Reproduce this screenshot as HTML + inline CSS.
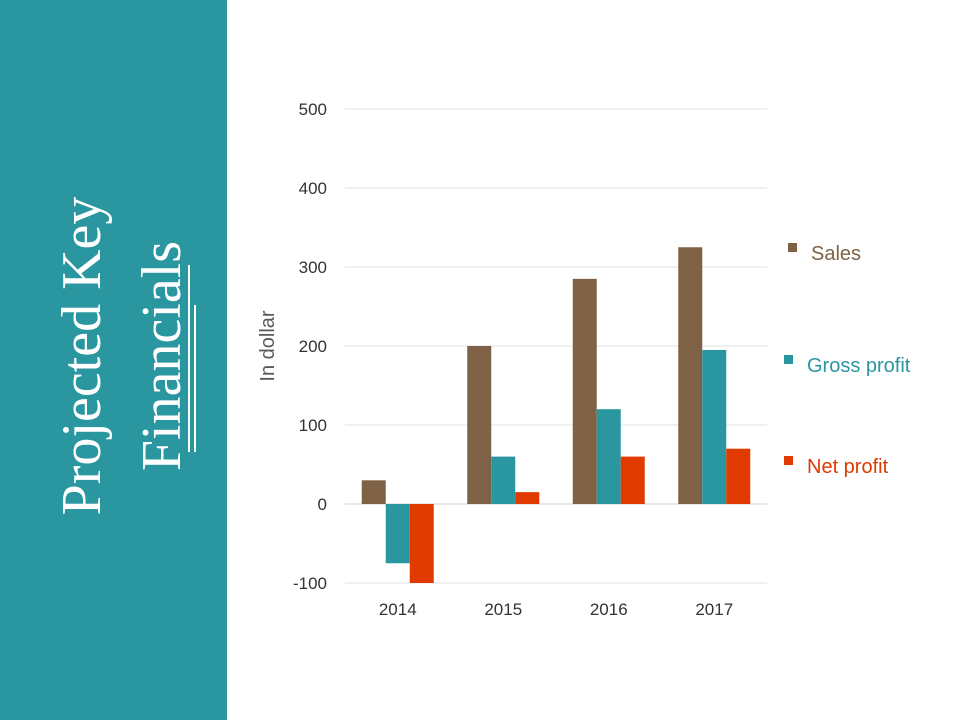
<!DOCTYPE html>
<html><head><meta charset="utf-8"><style>
html,body{margin:0;padding:0;background:#fff;}
svg{display:block;font-family:"Liberation Sans",sans-serif;}
</style></head><body>
<svg width="960" height="720" viewBox="0 0 960 720">
<rect x="0" y="0" width="227" height="720" fill="#2a96a0"/>
<g font-family="Liberation Serif, serif" fill="#fff" font-size="56">
<text transform="translate(100,356) rotate(-90)" text-anchor="middle">Projected Key</text>
<text transform="translate(180,356) rotate(-90)" text-anchor="middle">Financials</text>
</g>
<line x1="189" y1="265" x2="189" y2="452" stroke="#fff" stroke-width="2"/>
<line x1="195" y1="305" x2="195" y2="452" stroke="#fff" stroke-width="2"/>
<g id="grid"></g>
<g id="yticks" font-size="17" fill="#333"></g>
<g id="bars"></g>
<g id="xticks" font-size="17" fill="#333"></g>
<text transform="translate(274,346) rotate(-90)" text-anchor="middle" font-size="20" fill="#595959">In dollar</text>
<g id="legend" font-size="20"></g>
</svg>
<script>
const categories=["2014","2015","2016","2017"];
const seriesNames=["Sales","Gross profit","Net profit"];
const sales=[30,200,285,325];
const gross=[-75,60,120,195];
const net=[-100,15,60,70];
const yTicks=[-100,0,100,200,300,400,500];
const colors=["#7f6145","#2a96a0","#e03a00"];
const series=[sales,gross,net];
const NS="http://www.w3.org/2000/svg";
const x0=345,x1=767,yMin=-100,yMax=500,py0=583,py1=109;
const y=v=>py0+(v-yMin)/(yMax-yMin)*(py1-py0);
const band=(x1-x0)/categories.length;
const bw=24;
function mk(t,a,p){const e=document.createElementNS(NS,t);for(const k in a)e.setAttribute(k,a[k]);p.appendChild(e);return e;}
const grid=document.getElementById('grid'),yt=document.getElementById('yticks');
yTicks.forEach(v=>{
 const l=mk('line',{x1:x0,x2:x1,y1:y(v),y2:y(v),stroke:v===0?'#d0d0d0':'#e0e0e0','stroke-width':1},grid);
 
 
 const t=mk('text',{x:327,y:y(v)+6,'text-anchor':'end'},yt);t.textContent=v;
 
 
});
const bars=document.getElementById('bars'),xt=document.getElementById('xticks');
categories.forEach((c,i)=>{
 const cx=x0+band*(i+0.5);
 series.forEach((s,j)=>{
  const v=s[i];const bx=cx-bw*1.5+bw*j;
  const r=mk('rect',{x:bx,y:Math.min(y(v),y(0)),width:bw,height:Math.abs(y(v)-y(0)),fill:colors[j]},bars);
  
  
 });
 const t=mk('text',{x:cx,y:615,'text-anchor':'middle'},xt);t.textContent=c;
 
 
});
const lg=document.getElementById('legend');
const ly=[253,365,466];
seriesNames.forEach((n,j)=>{
 const g=mk('g',{},lg);
 
 
 mk('rect',{x:j===0?788:784,y:ly[j]-10,width:9,height:9,fill:colors[j]},g);
 const t=mk('text',{x:j===0?811:807,y:ly[j]+7,fill:colors[j]},g);t.textContent=n;
});
</script>
</body></html>
